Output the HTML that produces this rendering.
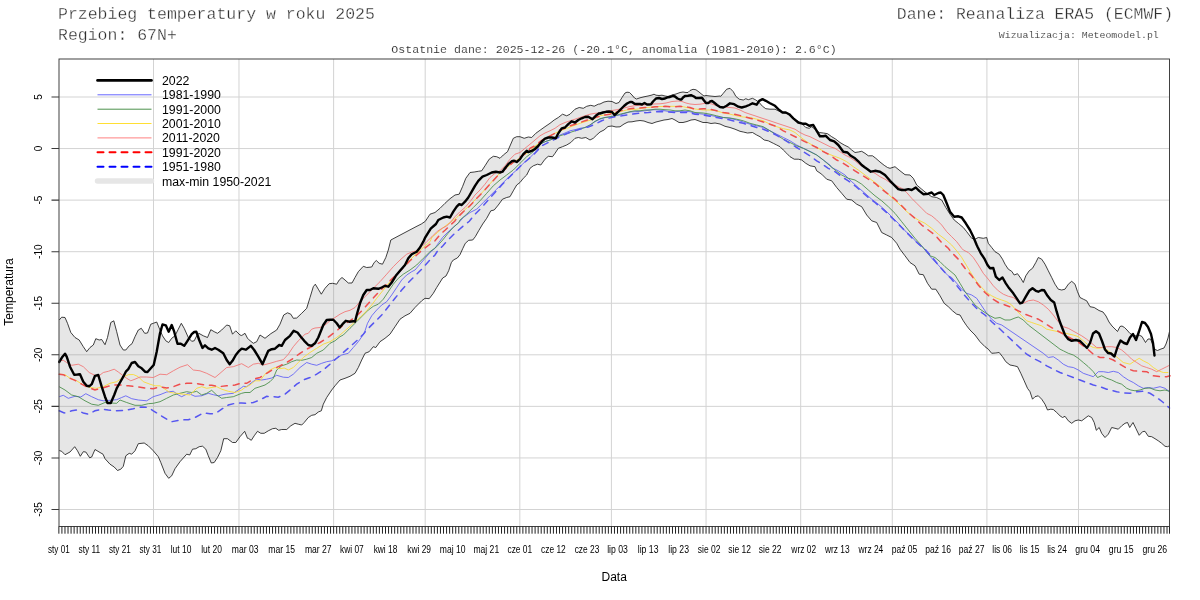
<!DOCTYPE html><html><head><meta charset="utf-8"><title>Przebieg temperatury</title>
<style>html,body{margin:0;padding:0;background:#fff}svg{display:block;will-change:transform;transform:translateZ(0)}.m{font-family:"Liberation Mono",monospace;fill:#2e2e2e;stroke:#fff;stroke-width:0.3px;paint-order:fill stroke}.m2{stroke-width:0.12px}.s{font-family:"Liberation Sans",sans-serif;fill:#000}</style></head><body>
<svg width="1200" height="600" viewBox="0 0 1200 600">
<rect width="1200" height="600" fill="#fff"/>
<path d="M59.0 509.50 H1169.5 M59.0 457.94 H1169.5 M59.0 406.37 H1169.5 M59.0 354.81 H1169.5 M59.0 303.25 H1169.5 M59.0 251.69 H1169.5 M59.0 200.12 H1169.5 M59.0 148.56 H1169.5 M59.0 97.00 H1169.5 M153.50 59.0 V526.5 M238.98 59.0 V526.5 M333.61 59.0 V526.5 M425.20 59.0 V526.5 M519.83 59.0 V526.5 M611.42 59.0 V526.5 M706.05 59.0 V526.5 M800.69 59.0 V526.5 M892.27 59.0 V526.5 M986.91 59.0 V526.5 M1078.50 59.0 V526.5" stroke="#d3d3d3" stroke-width="1" fill="none"/>
<path d="M59.2 320.0 L61.7 317.2 L65.0 317.5 L67.5 323.3 L70.8 332.5 L75.0 337.5 L79.2 340.0 L83.3 346.7 L86.7 351.7 L90.0 347.5 L93.3 345.0 L95.8 338.7 L99.2 340.0 L101.7 339.5 L105.0 344.7 L107.5 337.5 L110.8 322.5 L113.8 320.8 L116.7 331.7 L120.0 345.0 L123.3 350.0 L125.8 350.0 L129.2 345.8 L132.0 343.7 L135.0 336.7 L138.3 330.0 L141.3 328.3 L144.7 333.3 L147.5 333.0 L150.8 324.2 L153.3 323.3 L156.7 322.0 L160.0 330.0 L162.5 335.8 L165.8 340.8 L168.7 342.5 L171.7 338.3 L175.0 335.8 L178.3 329.2 L181.3 323.3 L184.2 328.3 L188.3 337.5 L191.7 341.3 L194.2 340.8 L196.7 335.8 L198.8 333.3 L203.3 335.8 L207.5 337.5 L210.8 329.7 L214.2 331.7 L217.5 333.3 L221.7 330.0 L226.7 325.0 L229.7 325.8 L232.5 334.2 L235.8 330.8 L240.0 335.0 L241.7 335.5 L245.0 333.3 L247.5 338.3 L248.3 339.2 L253.3 343.3 L256.7 341.7 L260.0 335.0 L265.0 338.3 L270.8 333.7 L276.7 330.0 L280.0 324.2 L283.7 315.0 L287.5 312.8 L290.8 314.2 L293.3 318.3 L296.7 318.0 L301.7 313.3 L306.7 308.3 L310.0 297.5 L313.3 286.7 L315.3 284.2 L318.3 289.2 L321.3 294.2 L325.0 288.3 L329.2 283.7 L332.5 283.3 L336.7 284.2 L339.2 280.0 L342.0 277.5 L345.0 280.0 L348.3 283.0 L352.0 283.0 L355.0 277.5 L358.3 271.7 L363.3 266.3 L366.7 267.5 L371.7 267.0 L374.2 262.5 L376.3 260.5 L379.2 263.3 L382.5 264.2 L385.8 257.5 L388.3 250.0 L390.8 240.0 L416.0 226.7 L421.3 224.0 L425.3 221.3 L430.0 214.2 L435.0 212.5 L440.0 208.3 L445.0 203.3 L450.0 198.7 L455.0 195.0 L459.2 194.2 L462.5 186.7 L465.8 178.3 L470.0 172.5 L474.2 172.0 L478.3 171.3 L481.7 170.8 L485.0 165.8 L489.2 159.2 L493.3 156.3 L496.7 156.7 L500.0 158.3 L503.3 155.0 L507.5 151.7 L513.3 138.3 L516.7 136.7 L520.0 136.7 L524.2 138.3 L528.3 137.0 L531.7 137.5 L535.8 133.3 L540.8 129.7 L545.0 126.7 L550.0 123.3 L554.2 120.0 L558.3 117.5 L562.5 114.2 L566.7 115.8 L570.0 114.2 L575.0 109.2 L579.2 107.5 L583.3 108.3 L586.7 106.3 L590.8 105.3 L594.2 106.2 L598.3 104.2 L600.0 104.0 L604.0 102.0 L608.0 101.2 L612.0 101.5 L616.0 103.5 L619.0 102.5 L622.0 97.5 L625.0 93.0 L627.0 92.2 L629.5 92.5 L632.0 95.0 L634.5 98.0 L636.5 99.0 L640.0 97.8 L644.0 96.8 L648.0 96.0 L652.0 95.0 L654.0 94.2 L656.0 95.2 L659.0 95.5 L662.0 95.2 L665.0 96.0 L668.0 96.5 L672.0 95.0 L676.0 94.0 L680.0 92.5 L683.0 92.0 L686.0 92.5 L688.0 92.5 L690.0 90.5 L693.0 89.3 L696.0 89.8 L699.0 92.0 L702.0 94.5 L704.0 96.0 L706.0 95.5 L710.0 96.0 L715.0 96.5 L720.0 96.0 L720.8 96.3 L723.3 93.3 L726.7 89.2 L730.0 88.3 L733.3 91.7 L735.8 96.3 L739.2 99.2 L743.3 100.0 L745.8 98.7 L748.3 99.7 L752.5 98.3 L755.8 100.0 L759.2 102.5 L762.5 106.3 L765.8 108.7 L770.0 109.2 L775.0 109.2 L778.3 110.8 L782.5 112.5 L786.7 113.3 L790.0 115.8 L794.2 119.2 L798.3 121.7 L802.5 124.2 L805.8 127.5 L809.2 128.3 L811.7 126.7 L815.0 129.2 L819.2 132.5 L823.3 133.0 L827.5 133.7 L831.7 136.7 L835.8 139.2 L840.0 142.5 L844.2 145.0 L848.3 147.0 L851.7 150.0 L855.0 152.5 L858.3 152.0 L861.7 151.3 L865.0 153.3 L868.3 155.8 L872.5 155.8 L875.8 158.3 L880.0 162.0 L884.2 165.3 L887.5 167.5 L890.0 168.3 L895.0 166.7 L900.0 170.8 L905.0 174.7 L910.0 175.0 L913.3 178.3 L916.7 185.0 L921.7 189.2 L926.7 193.3 L931.7 196.7 L936.7 197.5 L941.7 200.0 L945.8 207.5 L950.0 214.2 L954.2 220.0 L958.3 223.3 L963.3 227.5 L966.7 231.7 L971.7 238.3 L975.0 239.2 L978.3 237.5 L983.3 238.3 L986.7 237.5 L988.3 243.3 L991.7 247.5 L995.0 251.7 L999.2 254.2 L1002.5 259.2 L1005.0 264.2 L1008.3 269.2 L1011.7 271.3 L1014.2 275.0 L1017.5 273.7 L1020.8 278.3 L1023.3 282.5 L1025.8 275.8 L1029.2 270.8 L1032.5 268.3 L1035.8 262.5 L1038.3 257.5 L1041.7 259.2 L1045.0 264.2 L1048.3 270.8 L1051.7 277.5 L1055.0 284.2 L1058.3 289.2 L1061.7 290.0 L1065.0 289.2 L1068.3 284.2 L1071.7 281.3 L1075.0 284.2 L1077.5 291.7 L1080.0 297.5 L1083.3 299.2 L1086.7 300.8 L1090.0 306.7 L1094.2 307.5 L1099.0 310.5 L1103.0 312.0 L1106.0 316.0 L1109.0 322.0 L1112.0 326.0 L1115.0 329.0 L1117.5 331.5 L1120.0 326.5 L1122.0 326.0 L1124.5 327.5 L1127.0 330.0 L1130.0 333.5 L1133.0 335.0 L1136.0 336.0 L1139.0 335.0 L1142.0 336.5 L1145.5 342.5 L1148.0 339.0 L1150.5 339.0 L1152.5 344.0 L1155.0 349.5 L1157.5 350.5 L1161.0 349.0 L1164.0 348.0 L1166.0 344.0 L1168.0 338.0 L1169.5 331.5 L1169.5 445.8 L1167.5 446.7 L1165.0 446.3 L1161.7 443.3 L1158.3 440.8 L1155.0 438.7 L1151.7 436.7 L1148.3 436.3 L1145.0 431.3 L1142.5 431.7 L1139.2 435.3 L1135.8 428.3 L1133.0 422.5 L1129.7 427.5 L1127.5 422.5 L1125.0 423.3 L1121.7 425.8 L1118.3 429.2 L1115.0 428.3 L1111.7 427.5 L1108.3 434.2 L1105.0 437.5 L1101.7 433.3 L1099.2 427.5 L1096.3 430.3 L1094.2 422.5 L1091.7 417.5 L1088.3 415.8 L1085.0 418.3 L1081.7 420.8 L1078.3 420.0 L1075.0 420.8 L1071.7 423.3 L1068.3 420.8 L1065.0 416.3 L1062.5 417.5 L1060.0 415.8 L1056.7 412.5 L1053.3 409.5 L1050.8 409.2 L1047.5 410.0 L1045.0 404.2 L1041.7 399.2 L1038.3 395.8 L1035.0 396.7 L1032.5 399.2 L1030.0 391.7 L1027.5 388.3 L1024.2 380.8 L1020.8 373.3 L1017.5 366.7 L1014.2 365.8 L1010.0 365.0 L1005.8 361.7 L1002.5 356.7 L999.2 352.5 L995.8 353.0 L991.7 353.3 L988.3 349.2 L985.0 346.7 L980.0 341.7 L975.0 335.0 L970.0 330.0 L966.7 325.8 L963.3 320.8 L960.0 315.0 L956.7 314.2 L952.5 310.8 L948.3 306.7 L944.2 303.3 L940.0 295.8 L935.8 289.2 L931.7 289.2 L927.5 283.3 L923.3 274.7 L919.2 274.2 L915.0 265.8 L910.0 262.5 L905.0 255.8 L900.0 249.2 L896.7 243.3 L891.7 237.5 L886.7 235.0 L881.7 232.5 L876.7 222.5 L871.7 220.8 L866.7 215.0 L861.7 206.7 L856.7 204.2 L851.7 200.0 L846.7 199.2 L841.7 193.3 L836.7 187.5 L831.7 180.8 L826.7 179.2 L821.7 174.2 L816.7 170.8 L815.0 166.7 L810.0 165.8 L805.8 163.3 L801.7 160.0 L798.3 159.2 L794.2 159.2 L790.0 156.7 L786.7 153.3 L783.3 150.0 L780.0 146.7 L776.7 145.0 L773.3 143.3 L768.3 140.8 L764.2 140.0 L760.0 136.7 L756.7 135.0 L752.5 132.5 L747.5 133.0 L743.3 132.0 L740.0 131.3 L735.0 129.2 L730.0 127.5 L725.0 126.3 L720.0 124.0 L715.0 123.0 L711.0 123.5 L707.0 122.5 L703.0 122.5 L699.0 121.0 L695.0 119.5 L691.0 120.0 L687.0 121.5 L683.0 122.5 L679.0 122.5 L675.0 120.0 L672.0 118.5 L668.0 119.5 L664.0 120.0 L660.0 121.0 L656.0 122.0 L652.0 123.5 L648.0 122.5 L644.0 121.0 L640.0 120.5 L636.0 121.0 L632.0 121.8 L628.0 122.0 L624.0 124.0 L620.0 126.8 L616.0 127.0 L612.0 126.0 L608.0 126.5 L604.0 130.0 L600.0 132.0 L596.7 135.0 L593.3 138.3 L590.0 140.0 L585.8 137.5 L581.7 138.3 L578.3 137.5 L575.0 138.3 L570.8 142.5 L566.7 145.0 L562.5 146.7 L558.3 148.3 L555.0 153.3 L552.5 156.7 L548.3 156.3 L545.0 159.2 L540.8 165.0 L537.5 164.2 L533.3 165.8 L530.0 168.3 L526.7 175.0 L523.3 178.3 L520.0 182.5 L516.7 185.0 L513.3 190.8 L510.0 196.7 L506.7 197.5 L502.5 199.2 L498.3 205.0 L494.2 210.0 L490.8 210.8 L486.7 218.3 L482.7 224.0 L478.7 230.7 L475.3 236.7 L472.7 240.0 L468.7 240.3 L465.3 243.3 L462.7 248.7 L460.0 254.7 L457.3 258.0 L453.3 260.0 L451.3 262.7 L448.7 270.7 L446.0 276.0 L442.7 278.0 L436.7 287.5 L433.3 293.3 L429.2 298.7 L425.0 298.3 L421.7 300.8 L418.3 304.2 L415.0 307.5 L410.0 313.3 L405.0 315.8 L400.0 319.2 L395.0 326.7 L390.0 334.2 L385.0 338.3 L380.0 341.7 L375.8 347.5 L373.3 346.7 L369.2 351.7 L365.0 353.3 L361.7 360.0 L358.3 367.5 L355.0 373.3 L350.0 376.3 L345.0 378.3 L340.0 380.0 L335.0 385.8 L331.7 390.0 L326.7 397.5 L323.3 404.2 L321.3 410.8 L318.3 412.0 L315.0 414.7 L311.7 415.3 L308.3 417.5 L304.2 422.5 L301.7 425.0 L298.3 424.2 L295.0 423.3 L290.8 425.8 L286.7 429.5 L281.7 429.5 L278.7 430.3 L275.8 428.3 L272.5 428.7 L268.3 430.8 L264.2 433.3 L260.8 433.3 L257.5 431.3 L254.2 435.8 L251.3 440.3 L248.3 438.3 L247.5 438.3 L244.7 431.3 L240.0 436.7 L235.8 442.5 L232.5 442.5 L227.5 438.7 L223.7 438.7 L220.8 450.8 L217.5 457.5 L214.2 462.5 L211.3 463.0 L208.3 455.8 L205.8 449.2 L202.5 446.2 L199.2 446.7 L195.8 448.7 L192.5 449.2 L189.7 455.0 L186.7 454.2 L180.0 461.7 L175.0 468.7 L171.7 475.8 L168.7 478.3 L165.0 473.3 L160.8 462.5 L158.3 456.7 L153.3 450.8 L148.3 445.8 L144.2 443.0 L138.3 443.7 L135.0 450.8 L131.7 454.2 L129.2 453.3 L125.8 455.8 L123.3 466.3 L120.8 469.2 L117.5 470.5 L114.2 467.0 L110.0 464.2 L105.0 458.7 L103.0 454.2 L100.0 452.5 L95.0 449.5 L91.7 457.0 L89.7 457.8 L85.8 452.0 L83.3 451.7 L80.3 456.3 L77.5 450.8 L74.7 446.7 L70.0 452.0 L65.0 454.7 L61.7 451.3 L59.2 450.5 Z" fill="rgba(128,128,128,0.2)" stroke="none"/>
<path d="M59.2 320.0 L61.7 317.2 L65.0 317.5 L67.5 323.3 L70.8 332.5 L75.0 337.5 L79.2 340.0 L83.3 346.7 L86.7 351.7 L90.0 347.5 L93.3 345.0 L95.8 338.7 L99.2 340.0 L101.7 339.5 L105.0 344.7 L107.5 337.5 L110.8 322.5 L113.8 320.8 L116.7 331.7 L120.0 345.0 L123.3 350.0 L125.8 350.0 L129.2 345.8 L132.0 343.7 L135.0 336.7 L138.3 330.0 L141.3 328.3 L144.7 333.3 L147.5 333.0 L150.8 324.2 L153.3 323.3 L156.7 322.0 L160.0 330.0 L162.5 335.8 L165.8 340.8 L168.7 342.5 L171.7 338.3 L175.0 335.8 L178.3 329.2 L181.3 323.3 L184.2 328.3 L188.3 337.5 L191.7 341.3 L194.2 340.8 L196.7 335.8 L198.8 333.3 L203.3 335.8 L207.5 337.5 L210.8 329.7 L214.2 331.7 L217.5 333.3 L221.7 330.0 L226.7 325.0 L229.7 325.8 L232.5 334.2 L235.8 330.8 L240.0 335.0 L241.7 335.5 L245.0 333.3 L247.5 338.3 L248.3 339.2 L253.3 343.3 L256.7 341.7 L260.0 335.0 L265.0 338.3 L270.8 333.7 L276.7 330.0 L280.0 324.2 L283.7 315.0 L287.5 312.8 L290.8 314.2 L293.3 318.3 L296.7 318.0 L301.7 313.3 L306.7 308.3 L310.0 297.5 L313.3 286.7 L315.3 284.2 L318.3 289.2 L321.3 294.2 L325.0 288.3 L329.2 283.7 L332.5 283.3 L336.7 284.2 L339.2 280.0 L342.0 277.5 L345.0 280.0 L348.3 283.0 L352.0 283.0 L355.0 277.5 L358.3 271.7 L363.3 266.3 L366.7 267.5 L371.7 267.0 L374.2 262.5 L376.3 260.5 L379.2 263.3 L382.5 264.2 L385.8 257.5 L388.3 250.0 L390.8 240.0 L416.0 226.7 L421.3 224.0 L425.3 221.3 L430.0 214.2 L435.0 212.5 L440.0 208.3 L445.0 203.3 L450.0 198.7 L455.0 195.0 L459.2 194.2 L462.5 186.7 L465.8 178.3 L470.0 172.5 L474.2 172.0 L478.3 171.3 L481.7 170.8 L485.0 165.8 L489.2 159.2 L493.3 156.3 L496.7 156.7 L500.0 158.3 L503.3 155.0 L507.5 151.7 L513.3 138.3 L516.7 136.7 L520.0 136.7 L524.2 138.3 L528.3 137.0 L531.7 137.5 L535.8 133.3 L540.8 129.7 L545.0 126.7 L550.0 123.3 L554.2 120.0 L558.3 117.5 L562.5 114.2 L566.7 115.8 L570.0 114.2 L575.0 109.2 L579.2 107.5 L583.3 108.3 L586.7 106.3 L590.8 105.3 L594.2 106.2 L598.3 104.2 L600.0 104.0 L604.0 102.0 L608.0 101.2 L612.0 101.5 L616.0 103.5 L619.0 102.5 L622.0 97.5 L625.0 93.0 L627.0 92.2 L629.5 92.5 L632.0 95.0 L634.5 98.0 L636.5 99.0 L640.0 97.8 L644.0 96.8 L648.0 96.0 L652.0 95.0 L654.0 94.2 L656.0 95.2 L659.0 95.5 L662.0 95.2 L665.0 96.0 L668.0 96.5 L672.0 95.0 L676.0 94.0 L680.0 92.5 L683.0 92.0 L686.0 92.5 L688.0 92.5 L690.0 90.5 L693.0 89.3 L696.0 89.8 L699.0 92.0 L702.0 94.5 L704.0 96.0 L706.0 95.5 L710.0 96.0 L715.0 96.5 L720.0 96.0 L720.8 96.3 L723.3 93.3 L726.7 89.2 L730.0 88.3 L733.3 91.7 L735.8 96.3 L739.2 99.2 L743.3 100.0 L745.8 98.7 L748.3 99.7 L752.5 98.3 L755.8 100.0 L759.2 102.5 L762.5 106.3 L765.8 108.7 L770.0 109.2 L775.0 109.2 L778.3 110.8 L782.5 112.5 L786.7 113.3 L790.0 115.8 L794.2 119.2 L798.3 121.7 L802.5 124.2 L805.8 127.5 L809.2 128.3 L811.7 126.7 L815.0 129.2 L819.2 132.5 L823.3 133.0 L827.5 133.7 L831.7 136.7 L835.8 139.2 L840.0 142.5 L844.2 145.0 L848.3 147.0 L851.7 150.0 L855.0 152.5 L858.3 152.0 L861.7 151.3 L865.0 153.3 L868.3 155.8 L872.5 155.8 L875.8 158.3 L880.0 162.0 L884.2 165.3 L887.5 167.5 L890.0 168.3 L895.0 166.7 L900.0 170.8 L905.0 174.7 L910.0 175.0 L913.3 178.3 L916.7 185.0 L921.7 189.2 L926.7 193.3 L931.7 196.7 L936.7 197.5 L941.7 200.0 L945.8 207.5 L950.0 214.2 L954.2 220.0 L958.3 223.3 L963.3 227.5 L966.7 231.7 L971.7 238.3 L975.0 239.2 L978.3 237.5 L983.3 238.3 L986.7 237.5 L988.3 243.3 L991.7 247.5 L995.0 251.7 L999.2 254.2 L1002.5 259.2 L1005.0 264.2 L1008.3 269.2 L1011.7 271.3 L1014.2 275.0 L1017.5 273.7 L1020.8 278.3 L1023.3 282.5 L1025.8 275.8 L1029.2 270.8 L1032.5 268.3 L1035.8 262.5 L1038.3 257.5 L1041.7 259.2 L1045.0 264.2 L1048.3 270.8 L1051.7 277.5 L1055.0 284.2 L1058.3 289.2 L1061.7 290.0 L1065.0 289.2 L1068.3 284.2 L1071.7 281.3 L1075.0 284.2 L1077.5 291.7 L1080.0 297.5 L1083.3 299.2 L1086.7 300.8 L1090.0 306.7 L1094.2 307.5 L1099.0 310.5 L1103.0 312.0 L1106.0 316.0 L1109.0 322.0 L1112.0 326.0 L1115.0 329.0 L1117.5 331.5 L1120.0 326.5 L1122.0 326.0 L1124.5 327.5 L1127.0 330.0 L1130.0 333.5 L1133.0 335.0 L1136.0 336.0 L1139.0 335.0 L1142.0 336.5 L1145.5 342.5 L1148.0 339.0 L1150.5 339.0 L1152.5 344.0 L1155.0 349.5 L1157.5 350.5 L1161.0 349.0 L1164.0 348.0 L1166.0 344.0 L1168.0 338.0 L1169.5 331.5" fill="none" stroke="#111" stroke-width="0.8" stroke-linejoin="round"/>
<path d="M59.2 450.5 L61.7 451.3 L65.0 454.7 L70.0 452.0 L74.7 446.7 L77.5 450.8 L80.3 456.3 L83.3 451.7 L85.8 452.0 L89.7 457.8 L91.7 457.0 L95.0 449.5 L100.0 452.5 L103.0 454.2 L105.0 458.7 L110.0 464.2 L114.2 467.0 L117.5 470.5 L120.8 469.2 L123.3 466.3 L125.8 455.8 L129.2 453.3 L131.7 454.2 L135.0 450.8 L138.3 443.7 L144.2 443.0 L148.3 445.8 L153.3 450.8 L158.3 456.7 L160.8 462.5 L165.0 473.3 L168.7 478.3 L171.7 475.8 L175.0 468.7 L180.0 461.7 L186.7 454.2 L189.7 455.0 L192.5 449.2 L195.8 448.7 L199.2 446.7 L202.5 446.2 L205.8 449.2 L208.3 455.8 L211.3 463.0 L214.2 462.5 L217.5 457.5 L220.8 450.8 L223.7 438.7 L227.5 438.7 L232.5 442.5 L235.8 442.5 L240.0 436.7 L244.7 431.3 L247.5 438.3 L248.3 438.3 L251.3 440.3 L254.2 435.8 L257.5 431.3 L260.8 433.3 L264.2 433.3 L268.3 430.8 L272.5 428.7 L275.8 428.3 L278.7 430.3 L281.7 429.5 L286.7 429.5 L290.8 425.8 L295.0 423.3 L298.3 424.2 L301.7 425.0 L304.2 422.5 L308.3 417.5 L311.7 415.3 L315.0 414.7 L318.3 412.0 L321.3 410.8 L323.3 404.2 L326.7 397.5 L331.7 390.0 L335.0 385.8 L340.0 380.0 L345.0 378.3 L350.0 376.3 L355.0 373.3 L358.3 367.5 L361.7 360.0 L365.0 353.3 L369.2 351.7 L373.3 346.7 L375.8 347.5 L380.0 341.7 L385.0 338.3 L390.0 334.2 L395.0 326.7 L400.0 319.2 L405.0 315.8 L410.0 313.3 L415.0 307.5 L418.3 304.2 L421.7 300.8 L425.0 298.3 L429.2 298.7 L433.3 293.3 L436.7 287.5 L442.7 278.0 L446.0 276.0 L448.7 270.7 L451.3 262.7 L453.3 260.0 L457.3 258.0 L460.0 254.7 L462.7 248.7 L465.3 243.3 L468.7 240.3 L472.7 240.0 L475.3 236.7 L478.7 230.7 L482.7 224.0 L486.7 218.3 L490.8 210.8 L494.2 210.0 L498.3 205.0 L502.5 199.2 L506.7 197.5 L510.0 196.7 L513.3 190.8 L516.7 185.0 L520.0 182.5 L523.3 178.3 L526.7 175.0 L530.0 168.3 L533.3 165.8 L537.5 164.2 L540.8 165.0 L545.0 159.2 L548.3 156.3 L552.5 156.7 L555.0 153.3 L558.3 148.3 L562.5 146.7 L566.7 145.0 L570.8 142.5 L575.0 138.3 L578.3 137.5 L581.7 138.3 L585.8 137.5 L590.0 140.0 L593.3 138.3 L596.7 135.0 L600.0 132.0 L604.0 130.0 L608.0 126.5 L612.0 126.0 L616.0 127.0 L620.0 126.8 L624.0 124.0 L628.0 122.0 L632.0 121.8 L636.0 121.0 L640.0 120.5 L644.0 121.0 L648.0 122.5 L652.0 123.5 L656.0 122.0 L660.0 121.0 L664.0 120.0 L668.0 119.5 L672.0 118.5 L675.0 120.0 L679.0 122.5 L683.0 122.5 L687.0 121.5 L691.0 120.0 L695.0 119.5 L699.0 121.0 L703.0 122.5 L707.0 122.5 L711.0 123.5 L715.0 123.0 L720.0 124.0 L725.0 126.3 L730.0 127.5 L735.0 129.2 L740.0 131.3 L743.3 132.0 L747.5 133.0 L752.5 132.5 L756.7 135.0 L760.0 136.7 L764.2 140.0 L768.3 140.8 L773.3 143.3 L776.7 145.0 L780.0 146.7 L783.3 150.0 L786.7 153.3 L790.0 156.7 L794.2 159.2 L798.3 159.2 L801.7 160.0 L805.8 163.3 L810.0 165.8 L815.0 166.7 L816.7 170.8 L821.7 174.2 L826.7 179.2 L831.7 180.8 L836.7 187.5 L841.7 193.3 L846.7 199.2 L851.7 200.0 L856.7 204.2 L861.7 206.7 L866.7 215.0 L871.7 220.8 L876.7 222.5 L881.7 232.5 L886.7 235.0 L891.7 237.5 L896.7 243.3 L900.0 249.2 L905.0 255.8 L910.0 262.5 L915.0 265.8 L919.2 274.2 L923.3 274.7 L927.5 283.3 L931.7 289.2 L935.8 289.2 L940.0 295.8 L944.2 303.3 L948.3 306.7 L952.5 310.8 L956.7 314.2 L960.0 315.0 L963.3 320.8 L966.7 325.8 L970.0 330.0 L975.0 335.0 L980.0 341.7 L985.0 346.7 L988.3 349.2 L991.7 353.3 L995.8 353.0 L999.2 352.5 L1002.5 356.7 L1005.8 361.7 L1010.0 365.0 L1014.2 365.8 L1017.5 366.7 L1020.8 373.3 L1024.2 380.8 L1027.5 388.3 L1030.0 391.7 L1032.5 399.2 L1035.0 396.7 L1038.3 395.8 L1041.7 399.2 L1045.0 404.2 L1047.5 410.0 L1050.8 409.2 L1053.3 409.5 L1056.7 412.5 L1060.0 415.8 L1062.5 417.5 L1065.0 416.3 L1068.3 420.8 L1071.7 423.3 L1075.0 420.8 L1078.3 420.0 L1081.7 420.8 L1085.0 418.3 L1088.3 415.8 L1091.7 417.5 L1094.2 422.5 L1096.3 430.3 L1099.2 427.5 L1101.7 433.3 L1105.0 437.5 L1108.3 434.2 L1111.7 427.5 L1115.0 428.3 L1118.3 429.2 L1121.7 425.8 L1125.0 423.3 L1127.5 422.5 L1129.7 427.5 L1133.0 422.5 L1135.8 428.3 L1139.2 435.3 L1142.5 431.7 L1145.0 431.3 L1148.3 436.3 L1151.7 436.7 L1155.0 438.7 L1158.3 440.8 L1161.7 443.3 L1165.0 446.3 L1167.5 446.7 L1169.5 445.8" fill="none" stroke="#111" stroke-width="0.8" stroke-linejoin="round"/>
<path d="M59.2 396.7 L63.3 395.3 L68.3 398.3 L75.0 396.3 L80.8 397.0 L85.8 393.7 L91.7 396.7 L98.3 399.7 L103.3 400.8 L110.0 400.3 L116.7 399.7 L121.7 397.5 L125.8 395.8 L131.7 398.7 L138.3 400.0 L146.7 400.8 L153.3 396.7 L160.0 394.7 L166.7 392.0 L173.3 391.3 L178.3 395.0 L181.7 396.7 L188.3 393.3 L195.0 396.3 L201.7 395.8 L208.3 393.3 L213.3 394.7 L218.3 395.8 L225.0 394.2 L233.3 393.3 L241.7 387.5 L243.3 386.3 L246.7 386.7 L251.7 382.5 L256.7 379.2 L261.7 380.0 L266.7 379.2 L271.7 378.0 L276.7 375.3 L283.3 377.2 L288.3 377.5 L293.3 374.2 L300.0 367.5 L306.7 362.5 L311.7 364.2 L316.7 365.3 L321.7 363.3 L326.7 361.7 L331.7 360.8 L336.7 358.3 L341.7 355.0 L348.3 353.3 L353.3 347.5 L358.3 341.7 L364.2 333.3 L367.5 323.3 L371.7 315.8 L376.7 310.0 L381.7 305.0 L386.7 301.7 L391.7 295.0 L396.7 287.5 L401.7 280.0 L406.7 275.0 L411.7 271.7 L415.0 270.0 L420.0 264.2 L425.0 258.3 L430.0 252.5 L435.0 248.3 L437.3 244.7 L442.7 237.3 L448.0 232.0 L453.3 227.3 L458.7 222.7 L463.3 217.5 L470.0 212.5 L476.7 209.2 L483.3 202.5 L490.0 195.8 L496.7 189.2 L503.3 182.5 L510.0 175.8 L516.7 170.0 L523.3 163.3 L530.0 157.5 L536.7 150.8 L540.0 144.2 L545.0 141.7 L550.0 140.0 L555.0 138.3 L560.0 135.0 L565.0 133.0 L570.0 130.8 L575.0 129.7 L580.0 128.3 L585.0 127.5 L590.0 125.0 L595.0 121.7 L600.0 119.2 L605.0 117.5 L610.0 117.0 L615.0 115.8 L620.0 115.0 L625.0 113.3 L630.0 112.0 L635.0 111.7 L640.0 111.3 L645.0 110.8 L650.0 110.0 L655.0 109.7 L660.0 110.3 L665.0 110.8 L670.0 111.7 L675.0 111.7 L680.0 111.3 L685.0 111.3 L690.0 111.7 L695.0 113.3 L703.3 114.2 L710.0 115.3 L716.7 116.7 L723.3 117.5 L730.0 118.3 L736.7 120.0 L743.3 122.0 L750.0 124.2 L756.7 125.8 L763.3 127.5 L770.0 130.8 L776.7 134.2 L783.3 137.5 L790.0 140.8 L796.7 145.0 L803.3 148.3 L810.0 151.3 L816.7 155.0 L823.3 160.0 L830.0 165.0 L831.7 167.5 L838.3 170.8 L845.0 175.0 L851.7 181.7 L858.3 187.5 L865.0 193.3 L871.7 199.2 L878.3 204.2 L885.0 210.0 L891.7 216.7 L898.3 223.3 L905.0 230.8 L911.7 236.7 L918.3 244.2 L923.3 247.5 L928.3 254.2 L933.3 260.0 L938.3 265.0 L943.3 270.8 L948.3 275.8 L951.7 277.5 L956.7 283.3 L961.7 289.2 L966.7 293.3 L971.7 295.0 L976.7 298.3 L981.7 305.8 L986.7 313.3 L991.7 319.2 L996.7 323.3 L1001.7 325.0 L1043.3 353.3 L1048.3 357.5 L1053.3 356.7 L1058.3 360.0 L1063.3 364.2 L1068.3 366.7 L1073.3 367.5 L1078.3 370.0 L1083.3 373.3 L1088.3 375.0 L1093.3 376.7 L1098.3 371.7 L1103.3 371.7 L1108.3 372.5 L1113.3 371.3 L1118.3 372.5 L1123.3 376.7 L1128.3 380.0 L1133.3 382.5 L1138.3 385.8 L1143.3 388.3 L1148.3 387.5 L1153.3 388.3 L1160.0 386.7 L1165.0 388.3 L1169.5 391.7" fill="none" stroke="#5c5cf5" stroke-width="0.85"/>
<path d="M59.2 386.7 L65.0 390.0 L71.7 395.0 L78.3 396.7 L85.0 400.8 L91.7 404.2 L98.3 405.3 L105.0 402.5 L110.0 403.0 L116.7 403.3 L120.0 400.0 L126.7 402.5 L135.0 405.3 L141.7 405.3 L148.3 403.7 L153.3 403.3 L160.0 401.7 L166.7 398.3 L173.3 395.0 L180.0 393.3 L186.7 391.7 L191.7 392.5 L196.7 391.3 L201.7 395.0 L206.7 393.3 L211.7 390.3 L216.7 395.0 L221.7 398.3 L226.7 397.5 L233.3 396.7 L241.7 393.3 L245.0 392.5 L250.0 392.5 L255.0 388.3 L260.0 386.7 L265.0 385.0 L270.0 381.7 L273.3 378.3 L276.7 370.0 L281.7 365.8 L286.7 364.2 L291.7 361.7 L296.7 360.0 L301.7 360.3 L306.7 359.2 L311.7 357.5 L316.7 353.3 L323.3 350.0 L330.0 343.3 L335.0 340.8 L340.0 336.7 L343.3 335.0 L350.0 328.3 L356.7 321.7 L363.3 315.0 L368.3 310.0 L373.3 306.3 L378.3 304.2 L383.3 299.2 L388.3 291.7 L393.3 284.2 L398.3 278.3 L403.3 274.2 L410.0 270.0 L416.7 265.0 L423.3 258.3 L430.0 251.7 L436.7 246.7 L437.3 246.0 L442.7 240.0 L448.0 233.3 L453.3 227.3 L458.7 222.7 L460.0 220.0 L466.7 214.2 L473.3 207.5 L480.0 200.8 L486.7 193.3 L493.3 185.8 L500.0 180.0 L506.7 175.0 L513.3 170.0 L520.0 163.3 L526.7 156.7 L533.3 151.7 L535.0 146.7 L540.0 144.2 L545.0 141.7 L550.0 140.0 L555.0 138.3 L560.0 135.8 L565.0 134.2 L570.0 132.5 L575.0 130.8 L580.0 129.2 L585.0 127.5 L590.0 125.0 L595.0 121.3 L600.0 118.7 L605.0 117.5 L610.0 116.7 L615.0 115.8 L620.0 114.2 L625.0 113.0 L630.0 111.7 L635.0 110.8 L640.0 110.8 L645.0 110.0 L650.0 110.0 L655.0 109.2 L660.0 109.2 L665.0 109.7 L670.0 110.0 L675.0 110.8 L680.0 110.8 L685.0 110.0 L690.0 110.8 L695.0 112.5 L703.3 113.0 L710.0 114.2 L716.7 115.8 L723.3 117.5 L730.0 118.0 L736.7 119.2 L743.3 120.8 L750.0 123.3 L756.7 125.0 L763.3 126.7 L770.0 130.8 L776.7 135.0 L783.3 139.2 L790.0 142.5 L796.7 145.8 L803.3 148.3 L810.0 151.7 L816.7 155.0 L823.3 160.0 L830.0 165.8 L835.0 170.0 L841.7 175.0 L848.3 178.3 L855.0 180.0 L861.7 184.2 L868.3 190.0 L875.0 195.8 L881.7 200.8 L888.3 206.7 L895.0 213.3 L901.7 221.7 L908.3 230.0 L915.0 238.3 L921.7 245.8 L925.0 250.0 L930.0 255.8 L935.0 257.5 L940.0 261.7 L945.0 266.7 L950.0 270.8 L955.0 275.0 L960.0 283.3 L965.0 291.7 L970.0 298.3 L975.0 305.0 L980.0 309.2 L985.0 312.5 L990.0 315.8 L995.0 318.3 L1000.0 317.5 L1005.0 320.0 L1010.0 320.0 L1015.0 318.0 L1018.3 317.0 L1023.3 320.0 L1028.3 325.0 L1060.0 349.2 L1063.3 350.8 L1068.3 353.3 L1073.3 355.0 L1078.3 358.3 L1083.3 362.5 L1088.3 366.7 L1093.3 371.7 L1097.5 377.5 L1101.7 375.8 L1106.7 378.3 L1111.7 380.0 L1116.7 382.5 L1121.7 384.2 L1126.7 388.3 L1130.8 390.0 L1135.0 390.8 L1140.0 390.0 L1145.0 388.3 L1150.0 388.0 L1155.0 390.0 L1160.0 390.8 L1165.0 390.0 L1169.5 391.3" fill="none" stroke="#458b45" stroke-width="0.85"/>
<path d="M59.2 374.2 L65.0 374.7 L70.0 378.3 L76.7 380.8 L83.3 385.0 L90.0 387.5 L96.7 388.3 L103.3 386.7 L110.0 383.3 L116.7 381.7 L123.3 377.0 L128.3 374.7 L133.3 374.5 L138.3 376.7 L143.3 381.7 L150.0 384.2 L155.0 385.8 L160.0 385.8 L165.0 389.2 L170.0 392.5 L176.7 393.3 L183.3 394.2 L190.0 395.0 L196.7 388.3 L201.7 386.7 L206.7 388.3 L216.7 386.7 L221.7 389.2 L228.3 391.3 L235.0 392.5 L241.7 390.0 L245.0 387.5 L250.0 385.0 L255.0 380.8 L260.0 380.8 L265.0 374.2 L270.0 370.0 L275.0 367.5 L280.0 368.7 L284.2 368.0 L288.3 370.0 L293.3 367.5 L298.3 362.5 L303.3 357.5 L310.0 352.5 L316.7 348.3 L323.3 344.2 L330.0 341.7 L336.7 337.5 L340.0 335.0 L346.7 329.2 L353.3 323.3 L360.0 317.5 L366.7 310.8 L371.7 305.0 L376.7 298.3 L383.3 290.0 L390.0 281.7 L396.7 274.2 L403.3 267.5 L410.0 260.0 L416.7 253.3 L423.3 247.5 L430.0 241.7 L432.0 237.3 L437.3 232.7 L442.7 228.0 L448.0 224.0 L450.0 222.5 L456.7 217.5 L463.3 211.3 L470.0 205.0 L476.7 198.3 L483.3 191.3 L490.0 183.8 L496.7 176.3 L503.3 170.3 L510.0 165.0 L516.7 160.3 L523.3 155.3 L530.0 151.3 L533.3 147.5 L541.7 141.3 L550.0 135.8 L558.3 131.7 L566.7 128.3 L580.0 123.3 L593.3 119.2 L600.0 115.8 L608.3 114.2 L616.7 112.5 L626.7 110.0 L636.7 109.2 L646.7 107.5 L656.7 106.7 L666.7 106.3 L676.7 106.3 L683.3 106.7 L690.0 108.3 L696.7 109.2 L703.3 110.0 L710.0 110.0 L716.7 110.8 L723.3 113.0 L730.0 114.2 L736.7 115.8 L743.3 117.0 L750.0 117.5 L756.7 119.2 L763.3 120.8 L770.0 124.2 L776.7 126.7 L783.3 128.7 L790.0 130.0 L795.0 132.5 L800.0 136.7 L806.7 141.7 L813.3 145.8 L820.0 149.2 L826.7 153.3 L833.3 155.8 L840.0 158.3 L846.7 161.7 L853.3 166.7 L858.3 170.0 L865.0 175.0 L871.7 180.0 L878.3 185.0 L885.0 190.8 L891.7 197.5 L898.3 203.3 L905.0 210.0 L911.7 215.8 L918.3 220.0 L925.0 223.3 L931.7 228.3 L938.3 234.2 L945.0 239.2 L951.7 245.0 L956.7 250.8 L961.7 257.5 L966.7 265.8 L971.7 274.2 L976.7 281.7 L981.7 287.5 L986.7 292.5 L991.7 295.8 L996.7 298.3 L1001.7 300.0 L1006.7 301.7 L1011.7 305.0 L1016.7 310.8 L1021.7 315.8 L1026.7 320.8 L1031.7 322.5 L1036.7 324.2 L1041.7 325.8 L1046.7 329.2 L1073.3 335.0 L1078.3 336.7 L1083.3 340.8 L1088.3 345.0 L1093.3 347.5 L1098.3 348.3 L1103.3 347.5 L1108.3 350.8 L1113.3 354.2 L1118.3 358.3 L1123.3 362.5 L1130.0 364.2 L1135.0 360.8 L1139.2 358.3 L1143.3 360.8 L1148.3 363.3 L1153.3 367.5 L1158.3 370.8 L1163.3 372.5 L1168.3 372.5" fill="none" stroke="#fada2e" stroke-width="0.85"/>
<path d="M59.2 360.8 L63.3 360.3 L66.7 362.5 L71.7 365.3 L78.3 364.2 L83.3 366.7 L89.2 372.5 L94.2 375.0 L98.3 376.3 L103.3 372.5 L108.3 371.3 L114.2 369.2 L118.3 372.0 L123.3 375.8 L126.7 378.3 L130.8 380.8 L135.0 379.2 L140.0 377.0 L146.7 377.0 L153.3 377.5 L160.0 374.2 L166.7 374.7 L173.3 370.8 L180.0 367.2 L187.5 364.7 L193.3 370.0 L200.0 370.8 L206.7 373.3 L215.0 377.5 L220.0 373.3 L226.7 367.5 L233.3 366.7 L241.7 363.7 L247.5 367.0 L248.3 367.5 L253.3 364.2 L258.3 363.3 L263.3 365.0 L270.0 363.3 L276.7 361.3 L283.3 359.7 L288.3 354.2 L293.3 346.7 L298.3 340.8 L305.0 334.2 L308.3 333.3 L311.7 329.2 L315.0 328.0 L320.0 327.5 L325.0 325.0 L330.0 320.8 L335.0 317.5 L340.0 314.2 L345.0 311.7 L350.0 310.3 L355.0 307.5 L360.0 301.7 L366.7 295.0 L373.3 288.3 L380.0 281.7 L386.7 274.2 L393.3 266.7 L400.0 260.0 L406.7 254.2 L411.7 252.0 L416.7 250.8 L421.7 246.7 L426.7 241.7 L432.0 236.7 L437.3 231.3 L442.7 228.0 L446.7 226.0 L450.7 222.0 L455.0 216.7 L460.0 211.7 L465.0 207.5 L470.0 201.7 L475.0 195.0 L480.0 190.0 L485.0 184.2 L490.0 177.5 L495.0 173.3 L500.0 170.8 L505.0 165.8 L510.0 159.2 L515.0 154.2 L520.0 152.5 L525.0 148.3 L530.0 144.2 L535.0 140.0 L540.0 135.8 L545.0 133.0 L550.0 130.8 L555.0 128.3 L560.0 124.7 L565.0 122.5 L570.0 120.8 L575.0 119.2 L580.0 117.5 L585.0 115.8 L590.0 114.2 L595.0 113.3 L600.0 113.0 L606.0 111.5 L612.0 110.5 L618.0 109.5 L624.0 108.0 L630.0 106.5 L636.0 105.5 L642.0 105.0 L648.0 104.5 L654.0 104.0 L660.0 103.8 L666.0 103.0 L672.0 101.5 L678.0 101.0 L682.0 101.5 L686.0 103.0 L690.0 104.0 L695.0 104.5 L700.0 104.2 L704.0 103.5 L708.0 103.2 L712.0 104.0 L716.0 105.5 L720.0 107.0 L725.0 107.0 L730.0 107.5 L735.0 108.0 L740.0 110.0 L745.0 112.5 L750.0 114.2 L755.0 115.8 L760.0 117.5 L765.0 119.2 L770.0 120.8 L775.0 122.5 L780.0 124.2 L785.0 125.8 L790.0 127.5 L795.0 129.2 L800.0 132.5 L805.0 135.0 L810.0 136.7 L815.0 139.2 L820.0 141.7 L825.0 144.2 L830.0 146.7 L835.0 148.3 L840.0 151.7 L845.0 155.0 L850.0 157.5 L855.0 160.8 L860.0 165.0 L861.7 165.8 L868.3 170.0 L875.0 173.3 L880.0 176.7 L885.0 179.2 L890.0 182.5 L896.7 185.8 L903.3 189.2 L906.7 192.5 L911.7 198.3 L916.7 203.3 L921.7 208.3 L926.7 213.3 L931.7 215.8 L936.7 220.0 L941.7 225.0 L946.7 231.7 L951.7 236.7 L956.7 241.7 L961.7 248.3 L963.3 250.0 L968.3 252.5 L973.3 257.5 L978.3 265.0 L983.3 273.3 L988.3 279.2 L993.3 285.8 L998.3 290.8 L1003.3 294.2 L1008.3 296.3 L1013.3 297.5 L1018.3 301.7 L1023.3 303.3 L1028.3 300.8 L1033.3 300.0 L1038.3 301.7 L1043.3 305.0 L1048.3 309.2 L1053.3 315.0 L1058.3 321.7 L1063.3 326.7 L1068.3 328.3 L1081.7 335.8 L1086.7 339.2 L1091.7 343.3 L1096.7 347.5 L1101.7 347.5 L1106.7 346.7 L1111.7 346.7 L1116.7 347.5 L1121.7 350.0 L1126.7 354.2 L1131.7 359.2 L1136.7 362.5 L1141.7 365.8 L1146.7 367.5 L1151.7 369.2 L1156.7 371.7 L1161.7 369.2 L1166.7 366.7 L1170.0 365.0" fill="none" stroke="#f27373" stroke-width="0.85"/>
<path d="M59.2 374.2 L63.3 374.7 L68.3 377.5 L75.0 380.3 L81.7 384.2 L88.3 387.5 L95.0 390.0 L100.0 388.7 L106.7 386.7 L113.3 385.0 L120.0 385.0 L128.3 385.8 L136.7 386.7 L145.0 388.0 L153.3 388.7 L160.0 386.7 L166.7 388.0 L173.3 386.7 L180.0 384.2 L186.7 383.3 L195.0 383.3 L203.3 384.7 L211.7 385.3 L218.3 386.7 L226.7 385.8 L235.0 385.0 L241.7 383.0 L246.7 383.3 L253.3 379.2 L260.0 377.5 L266.7 373.3 L273.3 369.2 L280.0 365.8 L286.7 362.5 L293.3 358.3 L300.0 353.3 L306.7 349.2 L313.3 345.8 L320.0 342.5 L326.7 338.3 L330.0 335.8 L336.7 330.8 L343.3 325.0 L350.0 320.8 L356.7 315.8 L363.3 309.2 L370.0 301.7 L376.7 294.2 L383.3 287.5 L390.0 280.8 L396.7 274.2 L403.3 267.5 L410.0 260.8 L416.7 255.0 L423.3 249.2 L430.0 244.2 L435.0 240.8 L440.0 234.7 L445.3 230.0 L450.7 224.7 L454.7 221.3 L456.7 218.3 L463.3 211.7 L470.0 205.8 L476.7 198.3 L483.3 191.7 L490.0 184.2 L496.7 176.7 L503.3 170.8 L510.0 165.0 L516.7 159.2 L523.3 155.0 L528.3 151.7 L530.0 148.3 L535.0 145.8 L540.0 141.7 L545.0 138.3 L550.0 135.8 L555.0 133.3 L560.0 130.0 L565.0 128.3 L570.0 125.8 L575.0 124.2 L580.0 122.5 L585.0 120.8 L590.0 119.2 L595.0 117.5 L600.0 116.3 L605.0 115.0 L610.0 114.2 L615.0 112.5 L620.0 110.8 L625.0 109.7 L630.0 108.7 L635.0 108.0 L640.0 108.0 L645.0 107.5 L650.0 107.5 L655.0 106.7 L660.0 106.7 L665.0 106.3 L670.0 106.7 L675.0 106.7 L680.0 106.3 L685.0 106.7 L690.0 107.5 L695.0 109.2 L703.3 108.7 L710.0 109.2 L716.7 110.8 L723.3 112.5 L730.0 113.3 L736.7 114.7 L743.3 116.3 L750.0 118.3 L756.7 120.0 L763.3 122.0 L770.0 124.2 L776.7 126.7 L783.3 130.8 L790.0 134.2 L796.7 137.5 L803.3 140.8 L810.0 144.2 L816.7 147.5 L823.3 151.7 L830.0 155.0 L836.7 160.0 L843.3 163.3 L850.0 167.5 L855.0 170.8 L861.7 175.0 L868.3 179.2 L875.0 183.3 L881.7 189.2 L888.3 194.2 L895.0 199.2 L901.7 205.8 L908.3 212.5 L915.0 218.3 L921.7 225.0 L928.3 230.0 L935.0 235.0 L941.7 242.5 L948.3 248.3 L951.7 252.5 L958.3 259.2 L965.0 268.3 L971.7 275.8 L978.3 285.0 L985.0 292.5 L991.7 298.3 L998.3 302.5 L1005.0 305.0 L1011.7 307.5 L1018.3 310.8 L1025.0 314.2 L1031.7 316.7 L1038.3 319.2 L1045.0 323.3 L1050.0 326.7 L1080.0 343.3 L1086.7 348.3 L1093.3 354.2 L1100.0 357.5 L1106.7 357.5 L1113.3 360.0 L1120.0 364.2 L1126.7 368.3 L1133.3 370.8 L1140.0 371.3 L1146.7 371.7 L1153.3 375.8 L1160.0 376.7 L1166.7 376.7 L1170.0 375.8" fill="none" stroke="#ee4e4e" stroke-width="1.5" stroke-dasharray="6 6" stroke-linecap="round"/>
<path d="M59.2 410.8 L64.2 413.0 L71.7 410.8 L76.7 410.0 L83.3 413.0 L88.3 414.2 L95.0 410.8 L101.7 409.2 L108.3 410.0 L116.7 410.8 L125.0 410.3 L133.3 408.7 L140.8 407.0 L148.3 407.5 L153.3 410.8 L160.0 415.0 L166.7 419.2 L171.7 421.7 L180.0 420.0 L188.3 419.7 L195.0 417.5 L203.3 413.0 L210.0 413.7 L215.0 413.7 L221.7 409.2 L228.3 405.0 L235.0 403.3 L241.7 403.0 L246.7 403.3 L253.3 402.5 L260.0 400.0 L266.7 396.3 L273.3 396.7 L278.3 397.2 L285.0 394.2 L290.0 390.0 L296.7 384.2 L303.3 380.0 L310.0 377.5 L316.7 374.2 L323.3 370.0 L330.0 364.2 L336.7 358.3 L343.3 352.5 L350.0 346.7 L356.7 340.8 L363.3 334.2 L368.3 328.3 L375.0 321.7 L381.7 315.0 L388.3 306.7 L395.0 298.3 L401.7 290.0 L408.3 282.5 L415.0 275.8 L421.7 269.2 L428.3 261.7 L435.0 255.0 L437.3 251.3 L442.7 246.0 L448.0 240.0 L453.3 234.7 L458.7 230.0 L464.0 225.3 L469.3 221.3 L475.0 214.2 L481.7 207.5 L488.3 200.0 L495.0 192.5 L501.7 185.0 L508.3 178.3 L515.0 171.7 L521.7 165.0 L528.3 159.2 L535.0 153.3 L541.7 145.8 L548.3 142.5 L555.0 139.2 L561.7 135.8 L568.3 133.0 L575.0 130.8 L581.7 128.7 L588.3 127.0 L595.0 124.2 L601.7 120.8 L608.3 118.3 L615.0 116.7 L621.7 115.8 L628.3 114.7 L635.0 113.7 L641.7 113.0 L648.3 112.5 L655.0 111.7 L661.7 111.7 L668.3 112.0 L675.0 112.5 L681.7 112.5 L688.3 112.5 L695.0 114.2 L703.3 115.0 L710.0 116.3 L716.7 117.5 L723.3 118.7 L730.0 120.0 L736.7 121.7 L743.3 123.3 L750.0 125.3 L756.7 127.5 L763.3 129.2 L770.0 132.0 L776.7 135.3 L783.3 139.2 L790.0 143.3 L796.7 147.5 L803.3 151.7 L810.0 155.8 L816.7 160.8 L823.3 165.0 L828.3 168.3 L835.0 171.7 L841.7 176.7 L848.3 180.8 L855.0 185.8 L861.7 191.7 L868.3 197.5 L875.0 202.5 L881.7 208.3 L888.3 214.2 L895.0 220.8 L901.7 227.5 L908.3 234.2 L915.0 240.8 L921.7 246.7 L925.0 249.2 L931.7 256.7 L938.3 265.0 L945.0 272.5 L951.7 279.2 L958.3 287.5 L965.0 295.8 L971.7 303.3 L978.3 310.0 L985.0 315.0 L991.7 321.7 L998.3 327.5 L1026.7 354.2 L1033.3 358.3 L1040.0 361.7 L1046.7 365.8 L1053.3 369.2 L1060.0 372.5 L1066.7 375.0 L1073.3 377.5 L1080.0 380.0 L1086.7 382.5 L1093.3 385.0 L1100.0 386.7 L1106.7 389.2 L1110.0 390.0 L1116.7 391.7 L1123.3 393.0 L1130.0 393.3 L1136.7 391.7 L1143.3 391.3 L1150.0 393.3 L1156.7 397.5 L1163.3 402.5 L1169.5 408.0" fill="none" stroke="#5656f0" stroke-width="1.5" stroke-dasharray="6 6" stroke-linecap="round"/>
<path d="M59.2 362.0 L62.5 356.7 L65.0 353.7 L66.7 356.7 L70.0 366.7 L74.2 374.7 L77.5 374.5 L80.0 374.2 L83.3 381.7 L86.7 385.8 L89.2 386.3 L91.7 384.2 L95.0 375.8 L98.3 375.0 L101.7 386.7 L105.0 396.7 L107.5 403.0 L110.8 403.0 L114.2 395.0 L116.7 388.3 L120.0 382.5 L123.3 376.7 L125.8 371.7 L128.3 369.2 L131.7 363.0 L135.0 362.0 L138.3 366.3 L141.7 368.3 L145.0 371.7 L147.5 372.0 L150.8 368.3 L153.7 365.0 L156.7 351.7 L160.0 333.3 L162.5 324.5 L165.8 325.3 L168.7 331.7 L171.7 325.0 L174.2 331.7 L177.5 343.7 L180.8 343.7 L184.2 345.8 L187.5 340.8 L191.7 334.2 L194.2 332.0 L196.3 331.7 L199.2 340.0 L202.5 348.0 L205.0 345.3 L208.3 348.3 L211.7 349.7 L215.0 348.0 L218.3 349.7 L223.3 353.3 L226.7 360.0 L229.7 364.2 L232.5 360.8 L235.8 355.0 L239.2 350.8 L241.7 348.7 L245.8 349.7 L246.7 349.2 L250.8 345.8 L254.2 350.0 L258.3 356.7 L262.5 364.2 L265.0 358.3 L268.3 350.8 L271.7 349.2 L275.0 348.7 L279.2 345.0 L281.7 345.8 L285.0 340.0 L290.0 335.8 L293.7 330.8 L297.5 332.5 L300.8 336.7 L304.2 340.8 L308.3 345.0 L311.7 345.8 L315.0 343.3 L318.3 337.5 L320.0 333.3 L323.3 325.0 L326.7 320.0 L330.0 319.7 L333.3 319.7 L336.7 323.3 L339.7 327.5 L342.5 324.2 L345.8 320.8 L349.2 321.7 L353.3 321.2 L355.0 321.7 L356.7 315.0 L360.0 303.3 L363.3 295.0 L366.7 290.0 L370.0 290.0 L373.3 288.3 L378.3 288.8 L381.7 287.5 L385.0 285.8 L388.3 286.7 L391.7 282.5 L395.8 275.8 L400.0 270.8 L405.0 265.0 L408.3 258.3 L411.7 254.2 L416.7 251.7 L420.0 247.5 L423.3 241.7 L425.3 237.3 L430.7 228.7 L436.0 224.0 L438.3 220.0 L443.3 217.5 L446.7 216.7 L450.0 217.5 L453.3 211.7 L456.7 206.7 L459.2 204.2 L461.7 205.0 L465.0 201.7 L468.3 197.5 L471.7 191.7 L475.0 185.8 L478.3 180.8 L482.5 176.7 L486.7 175.0 L491.7 172.5 L495.8 171.7 L500.0 172.5 L502.5 171.7 L505.0 168.3 L508.3 164.2 L511.7 161.3 L514.2 160.8 L516.7 162.0 L520.0 159.2 L523.3 154.2 L526.7 150.8 L528.3 152.0 L531.7 150.8 L535.0 149.2 L538.3 145.8 L541.7 141.7 L545.0 138.7 L548.3 137.5 L551.7 137.5 L555.8 138.3 L558.3 133.3 L561.7 128.3 L565.0 127.5 L568.3 124.2 L571.7 121.3 L575.0 122.5 L578.3 120.0 L581.7 118.3 L585.0 117.0 L588.3 116.7 L592.5 119.2 L595.8 115.8 L599.2 113.3 L600.0 113.5 L603.0 112.5 L606.0 111.8 L609.0 111.5 L612.0 112.0 L614.5 115.0 L617.0 113.0 L620.0 110.0 L624.0 106.0 L627.0 103.5 L630.0 102.0 L632.0 102.0 L634.5 103.8 L637.0 104.0 L640.0 104.0 L642.0 104.5 L644.5 103.0 L647.0 104.5 L649.0 104.5 L651.0 104.2 L653.0 101.5 L656.0 98.5 L659.0 98.0 L662.0 99.0 L665.0 98.5 L668.0 97.2 L670.0 97.0 L673.0 95.8 L675.0 96.5 L677.5 98.5 L680.0 99.5 L681.5 99.5 L683.0 97.5 L685.0 96.0 L688.0 95.8 L691.0 95.2 L694.0 96.5 L696.0 98.0 L699.0 98.0 L702.0 97.8 L704.0 100.5 L706.0 103.0 L708.5 103.0 L710.0 101.5 L712.0 101.0 L714.0 102.5 L717.0 105.0 L720.0 107.0 L723.3 107.5 L726.7 105.8 L730.0 103.3 L734.2 104.2 L738.3 106.7 L741.7 107.5 L745.8 106.3 L749.2 105.0 L752.5 103.3 L756.7 104.7 L759.2 100.8 L762.5 99.2 L765.8 100.8 L770.0 103.3 L775.0 105.8 L779.2 110.0 L782.5 112.5 L785.8 112.5 L789.2 114.2 L793.3 118.3 L798.3 122.5 L802.5 123.7 L805.8 123.7 L809.2 125.8 L813.3 125.0 L816.7 130.8 L820.0 136.3 L823.3 136.3 L825.8 135.8 L830.0 140.0 L834.2 141.3 L838.3 145.0 L843.3 151.7 L847.5 152.5 L850.8 155.8 L855.0 158.3 L858.3 161.3 L861.7 165.0 L865.0 167.5 L867.5 169.2 L870.8 171.7 L875.0 170.8 L880.0 171.7 L885.0 175.0 L890.0 180.8 L895.0 185.8 L898.3 189.2 L901.7 190.0 L905.0 190.0 L908.3 189.2 L911.7 190.0 L915.8 187.5 L919.2 190.8 L923.3 194.2 L928.3 193.7 L931.7 192.5 L934.2 195.0 L938.3 193.0 L940.8 192.5 L943.3 195.0 L946.7 203.3 L950.0 211.7 L954.2 216.7 L958.3 216.3 L961.7 217.5 L965.8 223.3 L970.0 230.0 L973.3 236.7 L976.7 245.0 L977.5 246.7 L980.8 253.3 L984.2 258.3 L987.5 265.0 L990.0 268.3 L993.3 268.0 L995.8 276.7 L999.2 280.0 L1002.5 277.5 L1005.8 283.3 L1009.2 288.3 L1013.3 293.3 L1016.7 298.3 L1020.0 303.3 L1022.5 302.5 L1025.8 296.7 L1029.2 290.8 L1032.5 288.3 L1035.8 290.8 L1038.3 291.7 L1041.7 290.0 L1044.2 290.3 L1047.5 295.8 L1050.8 300.0 L1054.2 302.5 L1056.7 311.7 L1059.2 320.0 L1060.8 324.2 L1065.0 335.0 L1068.3 339.2 L1071.7 340.8 L1075.8 340.0 L1080.0 341.0 L1083.0 344.0 L1087.0 348.0 L1090.0 343.0 L1093.0 333.5 L1096.0 331.2 L1099.0 333.5 L1102.0 341.0 L1105.0 349.5 L1108.0 353.0 L1111.0 353.5 L1114.5 356.5 L1117.5 347.0 L1120.5 340.5 L1124.0 343.0 L1127.0 344.0 L1130.0 337.5 L1133.0 334.0 L1136.0 340.0 L1139.0 331.5 L1142.0 322.0 L1145.0 323.0 L1148.0 327.0 L1151.0 334.0 L1153.0 343.0 L1154.5 355.5" fill="none" stroke="#000" stroke-width="2.4" stroke-linejoin="round" stroke-linecap="round"/>
<rect x="59.0" y="59.0" width="1110.5" height="467.5" fill="none" stroke="#383838" stroke-width="0.95"/>
<path d="M51.5 509.50 H59.0 M51.5 457.94 H59.0 M51.5 406.37 H59.0 M51.5 354.81 H59.0 M51.5 303.25 H59.0 M51.5 251.69 H59.0 M51.5 200.12 H59.0 M51.5 148.56 H59.0 M51.5 97.00 H59.0" stroke="#3a3a3a" stroke-width="1.1" fill="none"/>
<text class="s" font-size="10" text-anchor="middle" transform="translate(41.7 509.50) rotate(-90)">-35</text>
<text class="s" font-size="10" text-anchor="middle" transform="translate(41.7 457.94) rotate(-90)">-30</text>
<text class="s" font-size="10" text-anchor="middle" transform="translate(41.7 406.37) rotate(-90)">-25</text>
<text class="s" font-size="10" text-anchor="middle" transform="translate(41.7 354.81) rotate(-90)">-20</text>
<text class="s" font-size="10" text-anchor="middle" transform="translate(41.7 303.25) rotate(-90)">-15</text>
<text class="s" font-size="10" text-anchor="middle" transform="translate(41.7 251.69) rotate(-90)">-10</text>
<text class="s" font-size="10" text-anchor="middle" transform="translate(41.7 200.12) rotate(-90)">-5</text>
<text class="s" font-size="10" text-anchor="middle" transform="translate(41.7 148.56) rotate(-90)">0</text>
<text class="s" font-size="10" text-anchor="middle" transform="translate(41.7 97.00) rotate(-90)">5</text>
<path d="M58.86 526.5 V533.7 M61.91 526.5 V533.7 M64.97 526.5 V533.7 M68.02 526.5 V533.7 M71.07 526.5 V533.7 M74.12 526.5 V533.7 M77.18 526.5 V533.7 M80.23 526.5 V533.7 M83.28 526.5 V533.7 M86.34 526.5 V533.7 M89.39 526.5 V533.7 M92.44 526.5 V533.7 M95.49 526.5 V533.7 M98.55 526.5 V533.7 M101.60 526.5 V533.7 M104.65 526.5 V533.7 M107.70 526.5 V533.7 M110.76 526.5 V533.7 M113.81 526.5 V533.7 M116.86 526.5 V533.7 M119.92 526.5 V533.7 M122.97 526.5 V533.7 M126.02 526.5 V533.7 M129.07 526.5 V533.7 M132.13 526.5 V533.7 M135.18 526.5 V533.7 M138.23 526.5 V533.7 M141.29 526.5 V533.7 M144.34 526.5 V533.7 M147.39 526.5 V533.7 M150.44 526.5 V533.7 M153.50 526.5 V533.7 M156.55 526.5 V533.7 M159.60 526.5 V533.7 M162.66 526.5 V533.7 M165.71 526.5 V533.7 M168.76 526.5 V533.7 M171.81 526.5 V533.7 M174.87 526.5 V533.7 M177.92 526.5 V533.7 M180.97 526.5 V533.7 M184.02 526.5 V533.7 M187.08 526.5 V533.7 M190.13 526.5 V533.7 M193.18 526.5 V533.7 M196.24 526.5 V533.7 M199.29 526.5 V533.7 M202.34 526.5 V533.7 M205.39 526.5 V533.7 M208.45 526.5 V533.7 M211.50 526.5 V533.7 M214.55 526.5 V533.7 M217.61 526.5 V533.7 M220.66 526.5 V533.7 M223.71 526.5 V533.7 M226.76 526.5 V533.7 M229.82 526.5 V533.7 M232.87 526.5 V533.7 M235.92 526.5 V533.7 M238.98 526.5 V533.7 M242.03 526.5 V533.7 M245.08 526.5 V533.7 M248.13 526.5 V533.7 M251.19 526.5 V533.7 M254.24 526.5 V533.7 M257.29 526.5 V533.7 M260.34 526.5 V533.7 M263.40 526.5 V533.7 M266.45 526.5 V533.7 M269.50 526.5 V533.7 M272.56 526.5 V533.7 M275.61 526.5 V533.7 M278.66 526.5 V533.7 M281.71 526.5 V533.7 M284.77 526.5 V533.7 M287.82 526.5 V533.7 M290.87 526.5 V533.7 M293.93 526.5 V533.7 M296.98 526.5 V533.7 M300.03 526.5 V533.7 M303.08 526.5 V533.7 M306.14 526.5 V533.7 M309.19 526.5 V533.7 M312.24 526.5 V533.7 M315.30 526.5 V533.7 M318.35 526.5 V533.7 M321.40 526.5 V533.7 M324.45 526.5 V533.7 M327.51 526.5 V533.7 M330.56 526.5 V533.7 M333.61 526.5 V533.7 M336.66 526.5 V533.7 M339.72 526.5 V533.7 M342.77 526.5 V533.7 M345.82 526.5 V533.7 M348.88 526.5 V533.7 M351.93 526.5 V533.7 M354.98 526.5 V533.7 M358.03 526.5 V533.7 M361.09 526.5 V533.7 M364.14 526.5 V533.7 M367.19 526.5 V533.7 M370.25 526.5 V533.7 M373.30 526.5 V533.7 M376.35 526.5 V533.7 M379.40 526.5 V533.7 M382.46 526.5 V533.7 M385.51 526.5 V533.7 M388.56 526.5 V533.7 M391.62 526.5 V533.7 M394.67 526.5 V533.7 M397.72 526.5 V533.7 M400.77 526.5 V533.7 M403.83 526.5 V533.7 M406.88 526.5 V533.7 M409.93 526.5 V533.7 M412.98 526.5 V533.7 M416.04 526.5 V533.7 M419.09 526.5 V533.7 M422.14 526.5 V533.7 M425.20 526.5 V533.7 M428.25 526.5 V533.7 M431.30 526.5 V533.7 M434.35 526.5 V533.7 M437.41 526.5 V533.7 M440.46 526.5 V533.7 M443.51 526.5 V533.7 M446.57 526.5 V533.7 M449.62 526.5 V533.7 M452.67 526.5 V533.7 M455.72 526.5 V533.7 M458.78 526.5 V533.7 M461.83 526.5 V533.7 M464.88 526.5 V533.7 M467.94 526.5 V533.7 M470.99 526.5 V533.7 M474.04 526.5 V533.7 M477.09 526.5 V533.7 M480.15 526.5 V533.7 M483.20 526.5 V533.7 M486.25 526.5 V533.7 M489.30 526.5 V533.7 M492.36 526.5 V533.7 M495.41 526.5 V533.7 M498.46 526.5 V533.7 M501.52 526.5 V533.7 M504.57 526.5 V533.7 M507.62 526.5 V533.7 M510.67 526.5 V533.7 M513.73 526.5 V533.7 M516.78 526.5 V533.7 M519.83 526.5 V533.7 M522.89 526.5 V533.7 M525.94 526.5 V533.7 M528.99 526.5 V533.7 M532.04 526.5 V533.7 M535.10 526.5 V533.7 M538.15 526.5 V533.7 M541.20 526.5 V533.7 M544.26 526.5 V533.7 M547.31 526.5 V533.7 M550.36 526.5 V533.7 M553.41 526.5 V533.7 M556.47 526.5 V533.7 M559.52 526.5 V533.7 M562.57 526.5 V533.7 M565.62 526.5 V533.7 M568.68 526.5 V533.7 M571.73 526.5 V533.7 M574.78 526.5 V533.7 M577.84 526.5 V533.7 M580.89 526.5 V533.7 M583.94 526.5 V533.7 M586.99 526.5 V533.7 M590.05 526.5 V533.7 M593.10 526.5 V533.7 M596.15 526.5 V533.7 M599.21 526.5 V533.7 M602.26 526.5 V533.7 M605.31 526.5 V533.7 M608.36 526.5 V533.7 M611.42 526.5 V533.7 M614.47 526.5 V533.7 M617.52 526.5 V533.7 M620.58 526.5 V533.7 M623.63 526.5 V533.7 M626.68 526.5 V533.7 M629.73 526.5 V533.7 M632.79 526.5 V533.7 M635.84 526.5 V533.7 M638.89 526.5 V533.7 M641.94 526.5 V533.7 M645.00 526.5 V533.7 M648.05 526.5 V533.7 M651.10 526.5 V533.7 M654.16 526.5 V533.7 M657.21 526.5 V533.7 M660.26 526.5 V533.7 M663.31 526.5 V533.7 M666.37 526.5 V533.7 M669.42 526.5 V533.7 M672.47 526.5 V533.7 M675.53 526.5 V533.7 M678.58 526.5 V533.7 M681.63 526.5 V533.7 M684.68 526.5 V533.7 M687.74 526.5 V533.7 M690.79 526.5 V533.7 M693.84 526.5 V533.7 M696.90 526.5 V533.7 M699.95 526.5 V533.7 M703.00 526.5 V533.7 M706.05 526.5 V533.7 M709.11 526.5 V533.7 M712.16 526.5 V533.7 M715.21 526.5 V533.7 M718.26 526.5 V533.7 M721.32 526.5 V533.7 M724.37 526.5 V533.7 M727.42 526.5 V533.7 M730.48 526.5 V533.7 M733.53 526.5 V533.7 M736.58 526.5 V533.7 M739.63 526.5 V533.7 M742.69 526.5 V533.7 M745.74 526.5 V533.7 M748.79 526.5 V533.7 M751.85 526.5 V533.7 M754.90 526.5 V533.7 M757.95 526.5 V533.7 M761.00 526.5 V533.7 M764.06 526.5 V533.7 M767.11 526.5 V533.7 M770.16 526.5 V533.7 M773.22 526.5 V533.7 M776.27 526.5 V533.7 M779.32 526.5 V533.7 M782.37 526.5 V533.7 M785.43 526.5 V533.7 M788.48 526.5 V533.7 M791.53 526.5 V533.7 M794.58 526.5 V533.7 M797.64 526.5 V533.7 M800.69 526.5 V533.7 M803.74 526.5 V533.7 M806.80 526.5 V533.7 M809.85 526.5 V533.7 M812.90 526.5 V533.7 M815.95 526.5 V533.7 M819.01 526.5 V533.7 M822.06 526.5 V533.7 M825.11 526.5 V533.7 M828.17 526.5 V533.7 M831.22 526.5 V533.7 M834.27 526.5 V533.7 M837.32 526.5 V533.7 M840.38 526.5 V533.7 M843.43 526.5 V533.7 M846.48 526.5 V533.7 M849.54 526.5 V533.7 M852.59 526.5 V533.7 M855.64 526.5 V533.7 M858.69 526.5 V533.7 M861.75 526.5 V533.7 M864.80 526.5 V533.7 M867.85 526.5 V533.7 M870.90 526.5 V533.7 M873.96 526.5 V533.7 M877.01 526.5 V533.7 M880.06 526.5 V533.7 M883.12 526.5 V533.7 M886.17 526.5 V533.7 M889.22 526.5 V533.7 M892.27 526.5 V533.7 M895.33 526.5 V533.7 M898.38 526.5 V533.7 M901.43 526.5 V533.7 M904.49 526.5 V533.7 M907.54 526.5 V533.7 M910.59 526.5 V533.7 M913.64 526.5 V533.7 M916.70 526.5 V533.7 M919.75 526.5 V533.7 M922.80 526.5 V533.7 M925.86 526.5 V533.7 M928.91 526.5 V533.7 M931.96 526.5 V533.7 M935.01 526.5 V533.7 M938.07 526.5 V533.7 M941.12 526.5 V533.7 M944.17 526.5 V533.7 M947.22 526.5 V533.7 M950.28 526.5 V533.7 M953.33 526.5 V533.7 M956.38 526.5 V533.7 M959.44 526.5 V533.7 M962.49 526.5 V533.7 M965.54 526.5 V533.7 M968.59 526.5 V533.7 M971.65 526.5 V533.7 M974.70 526.5 V533.7 M977.75 526.5 V533.7 M980.81 526.5 V533.7 M983.86 526.5 V533.7 M986.91 526.5 V533.7 M989.96 526.5 V533.7 M993.02 526.5 V533.7 M996.07 526.5 V533.7 M999.12 526.5 V533.7 M1002.18 526.5 V533.7 M1005.23 526.5 V533.7 M1008.28 526.5 V533.7 M1011.33 526.5 V533.7 M1014.39 526.5 V533.7 M1017.44 526.5 V533.7 M1020.49 526.5 V533.7 M1023.54 526.5 V533.7 M1026.60 526.5 V533.7 M1029.65 526.5 V533.7 M1032.70 526.5 V533.7 M1035.76 526.5 V533.7 M1038.81 526.5 V533.7 M1041.86 526.5 V533.7 M1044.91 526.5 V533.7 M1047.97 526.5 V533.7 M1051.02 526.5 V533.7 M1054.07 526.5 V533.7 M1057.13 526.5 V533.7 M1060.18 526.5 V533.7 M1063.23 526.5 V533.7 M1066.28 526.5 V533.7 M1069.34 526.5 V533.7 M1072.39 526.5 V533.7 M1075.44 526.5 V533.7 M1078.50 526.5 V533.7 M1081.55 526.5 V533.7 M1084.60 526.5 V533.7 M1087.65 526.5 V533.7 M1090.71 526.5 V533.7 M1093.76 526.5 V533.7 M1096.81 526.5 V533.7 M1099.86 526.5 V533.7 M1102.92 526.5 V533.7 M1105.97 526.5 V533.7 M1109.02 526.5 V533.7 M1112.08 526.5 V533.7 M1115.13 526.5 V533.7 M1118.18 526.5 V533.7 M1121.23 526.5 V533.7 M1124.29 526.5 V533.7 M1127.34 526.5 V533.7 M1130.39 526.5 V533.7 M1133.45 526.5 V533.7 M1136.50 526.5 V533.7 M1139.55 526.5 V533.7 M1142.60 526.5 V533.7 M1145.66 526.5 V533.7 M1148.71 526.5 V533.7 M1151.76 526.5 V533.7 M1154.82 526.5 V533.7 M1157.87 526.5 V533.7 M1160.92 526.5 V533.7 M1163.97 526.5 V533.7 M1167.03 526.5 V533.7 M1169.50 526.5 V533.7" stroke="#222" stroke-width="1" fill="none"/>
<text class="s" font-size="10" text-anchor="middle" x="58.9" y="552.5" textLength="21.7" lengthAdjust="spacingAndGlyphs">sty 01</text>
<text class="s" font-size="10" text-anchor="middle" x="89.4" y="552.5" textLength="21.7" lengthAdjust="spacingAndGlyphs">sty 11</text>
<text class="s" font-size="10" text-anchor="middle" x="119.9" y="552.5" textLength="21.7" lengthAdjust="spacingAndGlyphs">sty 21</text>
<text class="s" font-size="10" text-anchor="middle" x="150.4" y="552.5" textLength="21.7" lengthAdjust="spacingAndGlyphs">sty 31</text>
<text class="s" font-size="10" text-anchor="middle" x="181.0" y="552.5" textLength="20.7" lengthAdjust="spacingAndGlyphs">lut 10</text>
<text class="s" font-size="10" text-anchor="middle" x="211.5" y="552.5" textLength="20.7" lengthAdjust="spacingAndGlyphs">lut 20</text>
<text class="s" font-size="10" text-anchor="middle" x="245.1" y="552.5" textLength="26.7" lengthAdjust="spacingAndGlyphs">mar 03</text>
<text class="s" font-size="10" text-anchor="middle" x="281.7" y="552.5" textLength="26.7" lengthAdjust="spacingAndGlyphs">mar 15</text>
<text class="s" font-size="10" text-anchor="middle" x="318.3" y="552.5" textLength="26.7" lengthAdjust="spacingAndGlyphs">mar 27</text>
<text class="s" font-size="10" text-anchor="middle" x="351.9" y="552.5" textLength="23.7" lengthAdjust="spacingAndGlyphs">kwi 07</text>
<text class="s" font-size="10" text-anchor="middle" x="385.5" y="552.5" textLength="23.7" lengthAdjust="spacingAndGlyphs">kwi 18</text>
<text class="s" font-size="10" text-anchor="middle" x="419.1" y="552.5" textLength="23.7" lengthAdjust="spacingAndGlyphs">kwi 29</text>
<text class="s" font-size="10" text-anchor="middle" x="452.7" y="552.5" textLength="25.7" lengthAdjust="spacingAndGlyphs">maj 10</text>
<text class="s" font-size="10" text-anchor="middle" x="486.3" y="552.5" textLength="25.7" lengthAdjust="spacingAndGlyphs">maj 21</text>
<text class="s" font-size="10" text-anchor="middle" x="519.8" y="552.5" textLength="24.7" lengthAdjust="spacingAndGlyphs">cze 01</text>
<text class="s" font-size="10" text-anchor="middle" x="553.4" y="552.5" textLength="24.7" lengthAdjust="spacingAndGlyphs">cze 12</text>
<text class="s" font-size="10" text-anchor="middle" x="587.0" y="552.5" textLength="24.7" lengthAdjust="spacingAndGlyphs">cze 23</text>
<text class="s" font-size="10" text-anchor="middle" x="617.5" y="552.5" textLength="20.7" lengthAdjust="spacingAndGlyphs">lip 03</text>
<text class="s" font-size="10" text-anchor="middle" x="648.1" y="552.5" textLength="20.7" lengthAdjust="spacingAndGlyphs">lip 13</text>
<text class="s" font-size="10" text-anchor="middle" x="678.6" y="552.5" textLength="20.7" lengthAdjust="spacingAndGlyphs">lip 23</text>
<text class="s" font-size="10" text-anchor="middle" x="709.1" y="552.5" textLength="22.7" lengthAdjust="spacingAndGlyphs">sie 02</text>
<text class="s" font-size="10" text-anchor="middle" x="739.6" y="552.5" textLength="22.7" lengthAdjust="spacingAndGlyphs">sie 12</text>
<text class="s" font-size="10" text-anchor="middle" x="770.2" y="552.5" textLength="22.7" lengthAdjust="spacingAndGlyphs">sie 22</text>
<text class="s" font-size="10" text-anchor="middle" x="803.7" y="552.5" textLength="24.7" lengthAdjust="spacingAndGlyphs">wrz 02</text>
<text class="s" font-size="10" text-anchor="middle" x="837.3" y="552.5" textLength="24.7" lengthAdjust="spacingAndGlyphs">wrz 13</text>
<text class="s" font-size="10" text-anchor="middle" x="870.9" y="552.5" textLength="24.7" lengthAdjust="spacingAndGlyphs">wrz 24</text>
<text class="s" font-size="10" text-anchor="middle" x="904.5" y="552.5" textLength="25.7" lengthAdjust="spacingAndGlyphs">paź 05</text>
<text class="s" font-size="10" text-anchor="middle" x="938.1" y="552.5" textLength="25.7" lengthAdjust="spacingAndGlyphs">paź 16</text>
<text class="s" font-size="10" text-anchor="middle" x="971.6" y="552.5" textLength="25.7" lengthAdjust="spacingAndGlyphs">paź 27</text>
<text class="s" font-size="10" text-anchor="middle" x="1002.2" y="552.5" textLength="19.7" lengthAdjust="spacingAndGlyphs">lis 06</text>
<text class="s" font-size="10" text-anchor="middle" x="1029.7" y="552.5" textLength="19.7" lengthAdjust="spacingAndGlyphs">lis 15</text>
<text class="s" font-size="10" text-anchor="middle" x="1057.1" y="552.5" textLength="19.7" lengthAdjust="spacingAndGlyphs">lis 24</text>
<text class="s" font-size="10" text-anchor="middle" x="1087.7" y="552.5" textLength="24.7" lengthAdjust="spacingAndGlyphs">gru 04</text>
<text class="s" font-size="10" text-anchor="middle" x="1121.2" y="552.5" textLength="24.7" lengthAdjust="spacingAndGlyphs">gru 15</text>
<text class="s" font-size="10" text-anchor="middle" x="1154.8" y="552.5" textLength="24.7" lengthAdjust="spacingAndGlyphs">gru 26</text>
<text class="s" font-size="12" text-anchor="middle" x="614.2" y="580.8">Data</text>
<text class="s" font-size="12" text-anchor="middle" transform="translate(13.3 292) rotate(-90)">Temperatura</text>
<text class="m" font-size="16.5" x="58" y="18.7">Przebieg temperatury w roku 2025</text>
<text class="m" font-size="16.5" x="58" y="40">Region: 67N+</text>
<text class="m" font-size="16.45" text-anchor="end" x="1173" y="18.7">Dane: Reanaliza ERA5 (ECMWF)</text>
<text class="m m2" font-size="9.9" text-anchor="end" x="1158.8" y="37.5">Wizualizacja: Meteomodel.pl</text>
<text class="m m2" font-size="11.6" text-anchor="middle" x="614" y="53">Ostatnie dane: 2025-12-26 (-20.1°C, anomalia (1981-2010): 2.6°C)</text>
<path d="M97.5 80.4 H151.5" stroke="#000" stroke-width="2.6" fill="none" stroke-linecap="round"/>
<text class="s" font-size="12.3" x="162" y="84.9">2022</text>
<path d="M97.5 94.8 H151.5" stroke="#6666ff" stroke-width="1" fill="none"/>
<text class="s" font-size="12.3" x="162" y="99.3">1981-1990</text>
<path d="M97.5 109.2 H151.5" stroke="#4c924c" stroke-width="1" fill="none"/>
<text class="s" font-size="12.3" x="162" y="113.7">1991-2000</text>
<path d="M97.5 123.5 H151.5" stroke="#ffdf33" stroke-width="1" fill="none"/>
<text class="s" font-size="12.3" x="162" y="128.0">2001-2010</text>
<path d="M97.5 137.9 H151.5" stroke="#ff8080" stroke-width="1" fill="none"/>
<text class="s" font-size="12.3" x="162" y="142.4">2011-2020</text>
<path d="M97.5 152.3 H151.5" stroke="#ff0000" stroke-width="2" fill="none" stroke-dasharray="6 6" stroke-linecap="round"/>
<text class="s" font-size="12.3" x="162" y="156.8">1991-2020</text>
<path d="M97.5 166.8 H151.5" stroke="#0000ff" stroke-width="2" fill="none" stroke-dasharray="6 6" stroke-linecap="round"/>
<text class="s" font-size="12.3" x="162" y="171.3">1951-1980</text>
<path d="M97.5 181.1 H151.5" stroke="#e6e6e6" stroke-width="5.5" fill="none" stroke-linecap="round"/>
<text class="s" font-size="12.3" x="162" y="185.6">max-min 1950-2021</text>
</svg></body></html>
